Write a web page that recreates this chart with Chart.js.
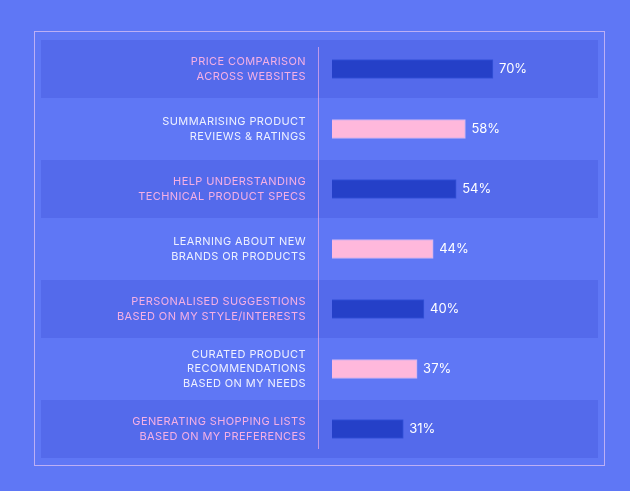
<!DOCTYPE html>
<html>
<head>
<meta charset="utf-8">
<script src="https://cdn.jsdelivr.net/npm/chart.js@4/dist/chart.umd.min.js"></script>
<style>
  html, body { margin: 0; padding: 0; background: #5f77f5; }
  #wrap { position: relative; width: 630px; height: 491px; }
  #frame { position: absolute; left: 34px; top: 31px; width: 569px; height: 433px;
           border: 1px solid rgba(205, 185, 245, 0.85); pointer-events: none; }
</style>
</head>
<body>
<div id="wrap">
  <canvas id="myChart" width="630" height="491"></canvas>
  <div id="frame"></div>
</div>
<script>
const categories = [
  ["PRICE COMPARISON", "ACROSS WEBSITES"],
  ["SUMMARISING PRODUCT", "REVIEWS & RATINGS"],
  ["HELP UNDERSTANDING", "TECHNICAL PRODUCT SPECS"],
  ["LEARNING ABOUT NEW", "BRANDS OR PRODUCTS"],
  ["PERSONALISED SUGGESTIONS", "BASED ON MY STYLE/INTERESTS"],
  ["CURATED PRODUCT", "RECOMMENDATIONS", "BASED ON MY NEEDS"],
  ["GENERATING SHOPPING LISTS", "BASED ON MY PREFERENCES"]
];
const values = [70, 58, 54, 44, 40, 37, 31];

const darkBar = "#2540c8";
const pinkBar = "#ffb8dc";
const pinkText = "#f5b0e4";
const lightText = "#eef0ff";

// stripes behind the odd rows + the thin divider line
const backdrop = {
  id: "backdrop",
  beforeDraw(chart) {
    const ctx = chart.ctx;
    const y = chart.scales.y;
    ctx.save();
    ctx.fillStyle = "rgba(70, 90, 225, 0.45)";
    categories.forEach((c, i) => {
      if (i % 2 === 0) {
        const cy = y.getPixelForValue(i);
        ctx.fillRect(41, cy - 29, 557, 58);
      }
    });
    ctx.strokeStyle = "rgba(225, 170, 235, 0.75)";
    ctx.lineWidth = 1;
    ctx.beginPath();
    ctx.moveTo(chart.chartArea.left - 13.5, y.getPixelForValue(0) - 22);
    ctx.lineTo(chart.chartArea.left - 13.5, y.getPixelForValue(categories.length - 1) + 20);
    ctx.stroke();
    ctx.restore();
    ctx.letterSpacing = "0.4px";
  },
  afterDatasetsDraw(chart) {
    const ctx = chart.ctx;
    ctx.save();
    ctx.letterSpacing = "0px";
    ctx.font = "13px Inter";
    ctx.fillStyle = "#ffffff";
    ctx.textBaseline = "middle";
    chart.getDatasetMeta(0).data.forEach((bar, i) => {
      ctx.fillText(values[i] + "%", bar.x + 6, bar.y + 0.5);
    });
    ctx.restore();
  }
};

new Chart("myChart", {
  type: "bar",
  data: {
    labels: categories,
    datasets: [{
      data: values,
      backgroundColor: values.map((v, i) => i % 2 === 0 ? darkBar : pinkBar),
      borderColor: values.map((v, i) => i % 2 === 0 ? "#3553d8" : "#c9b3f2"),
      borderWidth: 1,
      barThickness: 19,
      borderSkipped: "left"
    }]
  },
  options: {
    indexAxis: "y",
    responsive: false,
    animation: false,
    layout: { padding: { top: 39, bottom: 32, right: 68, left: 0 } },
    plugins: { legend: { display: false }, tooltip: { enabled: false } },
    scales: {
      x: { display: false, min: 0, max: 100 },
      y: {
        grid: { display: false, drawTicks: false },
        border: { display: false },
        afterFit(scale) {
          scale.width = 332;
          scale.paddingTop = 0;
          scale.paddingBottom = 0;
        },
        ticks: {
          padding: 26,
          color: (c) => c.index % 2 === 0 ? pinkText : lightText,
          font: { family: "Inter", size: 11, lineHeight: 1.34 }
        }
      }
    }
  },
  plugins: [backdrop]
});
</script>
</body>
</html>
